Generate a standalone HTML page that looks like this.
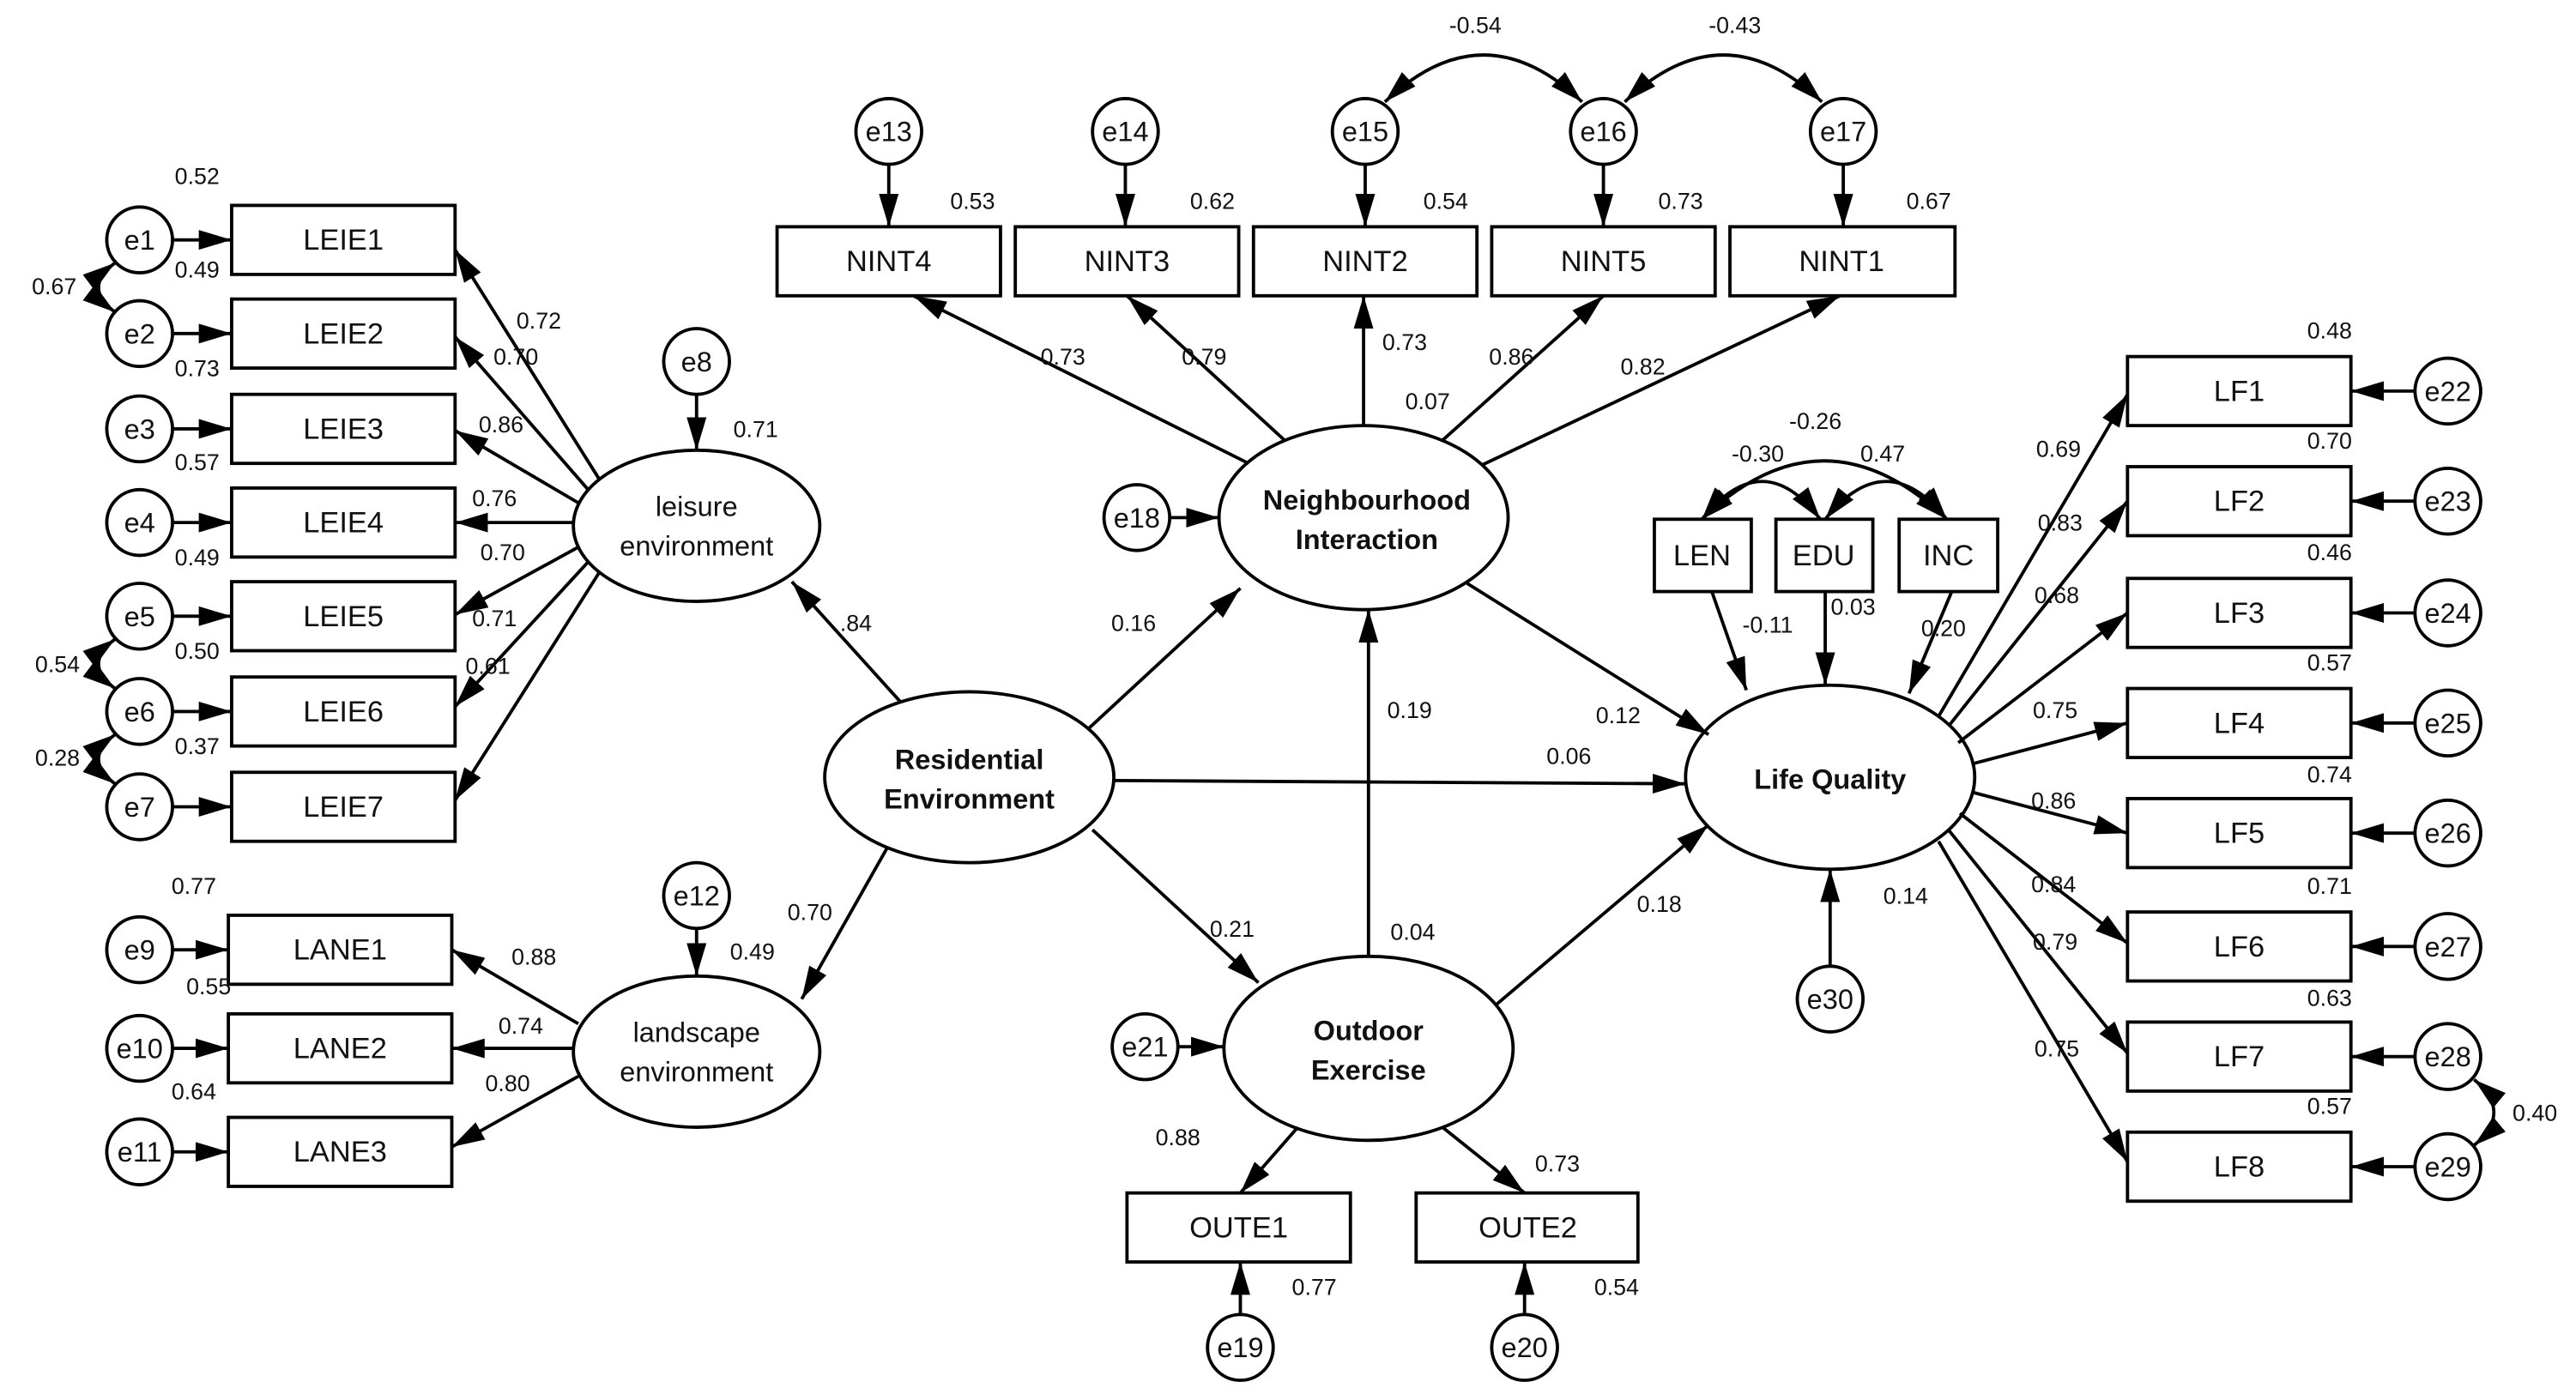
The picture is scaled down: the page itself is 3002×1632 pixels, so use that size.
<!DOCTYPE html>
<html><head><meta charset="utf-8">
<style>
html,body{margin:0;padding:0;background:#fff;}
svg{display:block;}
text{font-family:"Liberation Sans",Arial,sans-serif;fill:#111;}
.n{font-size:14px;}
.b{font-size:18px;}
.l{font-size:17px;font-weight:bold;}
.e{font-size:17px;}
</style></head><body>
<svg width="3002" height="1632" viewBox="0 0 1568 852" preserveAspectRatio="none" xmlns="http://www.w3.org/2000/svg">
<defs>
<marker id="a" viewBox="0 0 10 10" refX="10" refY="5" markerWidth="7" markerHeight="6" orient="auto-start-reverse" markerUnits="userSpaceOnUse">
<path d="M0,0 L10,5 L0,10 z" fill="#000"/></marker>
<marker id="A" viewBox="0 0 20 12" refX="20" refY="6" markerWidth="20" markerHeight="12" orient="auto-start-reverse" markerUnits="userSpaceOnUse">
<path d="M0,0 L20,6 L0,12 z" fill="#000"/></marker>
</defs>
<g stroke="#000" stroke-width="2" fill="none">
<!-- left LEIE boxes -->
<rect x="141" y="125" width="136" height="42"/>
<rect x="141" y="182" width="136" height="42"/>
<rect x="141" y="240" width="136" height="42"/>
<rect x="141" y="297" width="136" height="42"/>
<rect x="141" y="354" width="136" height="42"/>
<rect x="141" y="412" width="136" height="42"/>
<rect x="141" y="470" width="136" height="42"/>
<circle cx="85" cy="146" r="20"/><circle cx="85" cy="203" r="20"/><circle cx="85" cy="261" r="20"/>
<circle cx="85" cy="318" r="20"/><circle cx="85" cy="375" r="20"/><circle cx="85" cy="433" r="20"/><circle cx="85" cy="491" r="20"/>
<!-- LANE -->
<rect x="139" y="557" width="136" height="42"/>
<rect x="139" y="617" width="136" height="42"/>
<rect x="139" y="680" width="136" height="42"/>
<circle cx="85" cy="578" r="20"/><circle cx="85" cy="638" r="20"/><circle cx="85" cy="701" r="20"/>
<!-- latent ellipses -->
<ellipse cx="424" cy="320" rx="75" ry="46"/>
<ellipse cx="424" cy="640" rx="75" ry="46"/>
<ellipse cx="590" cy="473" rx="88" ry="52"/>
<ellipse cx="830" cy="315" rx="88" ry="56"/>
<ellipse cx="833" cy="638" rx="88" ry="56"/>
<ellipse cx="1114" cy="473" rx="88" ry="56"/>
<circle cx="424" cy="220" r="20"/><circle cx="424" cy="545" r="20"/>
<!-- NINT -->
<rect x="473" y="138" width="136" height="42"/>
<rect x="618" y="138" width="136" height="42"/>
<rect x="763" y="138" width="136" height="42"/>
<rect x="908" y="138" width="136" height="42"/>
<rect x="1053" y="138" width="137" height="42"/>
<circle cx="541" cy="80" r="20"/><circle cx="685" cy="80" r="20"/><circle cx="831" cy="80" r="20"/>
<circle cx="976" cy="80" r="20"/><circle cx="1122" cy="80" r="20"/>
<circle cx="692" cy="315" r="20"/><circle cx="697" cy="637" r="20"/>
<!-- OUTE -->
<rect x="686" y="726" width="136" height="42"/>
<rect x="862" y="726" width="135" height="42"/>
<circle cx="755" cy="820" r="20"/><circle cx="928" cy="820" r="20"/>
<!-- covariates -->
<rect x="1007" y="316" width="59" height="44"/>
<rect x="1081" y="316" width="59" height="44"/>
<rect x="1156" y="316" width="60" height="44"/>
<circle cx="1114" cy="608" r="20"/>
<!-- LF -->
<rect x="1295" y="217" width="136" height="42"/>
<rect x="1295" y="284" width="136" height="42"/>
<rect x="1295" y="352" width="136" height="42"/>
<rect x="1295" y="419" width="136" height="42"/>
<rect x="1295" y="486" width="136" height="42"/>
<rect x="1295" y="555" width="136" height="42"/>
<rect x="1295" y="622" width="136" height="42"/>
<rect x="1295" y="689" width="136" height="42"/>
<circle cx="1490" cy="238" r="20"/><circle cx="1490" cy="305" r="20"/><circle cx="1490" cy="373" r="20"/><circle cx="1490" cy="440" r="20"/>
<circle cx="1490" cy="507" r="20"/><circle cx="1490" cy="576" r="20"/><circle cx="1490" cy="643" r="20"/><circle cx="1490" cy="710" r="20"/>
</g>
<g stroke="#000" stroke-width="2" fill="none" marker-end="url(#A)">
<!-- error arrows left -->
<line x1="105" y1="146" x2="141" y2="146"/><line x1="105" y1="203" x2="141" y2="203"/><line x1="105" y1="261" x2="141" y2="261"/>
<line x1="105" y1="318" x2="141" y2="318"/><line x1="105" y1="375" x2="141" y2="375"/><line x1="105" y1="433" x2="141" y2="433"/>
<line x1="105" y1="491" x2="141" y2="491"/>
<line x1="105" y1="578" x2="139" y2="578"/><line x1="105" y1="638" x2="139" y2="638"/><line x1="105" y1="701" x2="139" y2="701"/>
<!-- leisure loadings -->
<line x1="365" y1="292" x2="277" y2="152"/>
<line x1="358" y1="298" x2="277" y2="205"/>
<line x1="352" y1="306" x2="277" y2="262"/>
<line x1="349" y1="318" x2="277" y2="318"/>
<line x1="352" y1="333" x2="277" y2="374"/>
<line x1="358" y1="342" x2="277" y2="430"/>
<line x1="365" y1="348" x2="277" y2="487"/>
<line x1="424" y1="240" x2="424" y2="274"/>
<line x1="424" y1="565" x2="424" y2="594"/>
<!-- landscape loadings -->
<line x1="352" y1="623" x2="275" y2="578"/>
<line x1="349" y1="638" x2="275" y2="638"/>
<line x1="352" y1="655" x2="275" y2="698"/>
<!-- residential -->
<line x1="548" y1="427" x2="482" y2="354"/>
<line x1="540" y1="516" x2="488" y2="608"/>
<line x1="663" y1="443" x2="755" y2="358"/>
<line x1="678" y1="475" x2="1026" y2="477"/>
<line x1="665" y1="505" x2="766" y2="598"/>
<!-- NINT -->
<line x1="541" y1="100" x2="541" y2="138"/><line x1="685" y1="100" x2="685" y2="138"/><line x1="831" y1="100" x2="831" y2="138"/>
<line x1="976" y1="100" x2="976" y2="138"/><line x1="1122" y1="100" x2="1122" y2="138"/>
<line x1="760" y1="282" x2="556" y2="180"/>
<line x1="782" y1="268" x2="686" y2="180"/>
<line x1="830" y1="259" x2="830" y2="180"/>
<line x1="878" y1="268" x2="976" y2="180"/>
<line x1="902" y1="283" x2="1120" y2="180"/>
<line x1="712" y1="315" x2="742" y2="315"/>
<line x1="717" y1="637" x2="745" y2="637"/>
<line x1="893" y1="355" x2="1040" y2="447"/>
<line x1="833" y1="582" x2="833" y2="371"/>
<line x1="910" y1="612" x2="1040" y2="502"/>
<!-- outdoor -->
<line x1="790" y1="686" x2="755" y2="726"/>
<line x1="878" y1="686" x2="928" y2="726"/>
<line x1="755" y1="800" x2="755" y2="768"/>
<line x1="928" y1="800" x2="928" y2="768"/>
<!-- covariates -->
<line x1="1042" y1="360" x2="1063" y2="420"/>
<line x1="1111" y1="360" x2="1111" y2="417"/>
<line x1="1188" y1="360" x2="1162" y2="422"/>
<line x1="1114" y1="588" x2="1114" y2="529"/>
<!-- LF -->
<line x1="1470" y1="238" x2="1431" y2="238"/><line x1="1470" y1="305" x2="1431" y2="305"/><line x1="1470" y1="373" x2="1431" y2="373"/>
<line x1="1470" y1="440" x2="1431" y2="440"/><line x1="1470" y1="507" x2="1431" y2="507"/><line x1="1470" y1="576" x2="1431" y2="576"/>
<line x1="1470" y1="643" x2="1431" y2="643"/><line x1="1470" y1="710" x2="1431" y2="710"/>
<line x1="1180" y1="436" x2="1295" y2="240"/>
<line x1="1186" y1="442" x2="1295" y2="305"/>
<line x1="1192" y1="452" x2="1295" y2="373"/>
<line x1="1200" y1="465" x2="1295" y2="440"/>
<line x1="1200" y1="482" x2="1295" y2="507"/>
<line x1="1193" y1="495" x2="1295" y2="574"/>
<line x1="1186" y1="505" x2="1295" y2="641"/>
<line x1="1180" y1="512" x2="1295" y2="707"/>
</g>
<!-- covariance curves -->
<g stroke="#000" stroke-width="2" fill="none" marker-start="url(#A)" marker-end="url(#A)">
<path d="M70,160 Q50,175 70,190"/>
<path d="M70,389 Q50,404 70,419"/>
<path d="M70,447 Q50,462 70,477"/>
<path d="M843,62 Q903,5 963,62"/>
<path d="M989,62 Q1049,5 1109,62"/>
<path d="M1506,657 Q1530,677 1506,697"/>
<path d="M1036,316 Q1073,270 1108,316"/>
<path d="M1111,316 Q1148,270 1185,316"/>
<path d="M1036,316 Q1110,245 1185,316"/>
</g>
<!-- text -->
<g class="b" text-anchor="middle">
<text x="209" y="152">LEIE1</text><text x="209" y="209">LEIE2</text><text x="209" y="267">LEIE3</text><text x="209" y="324">LEIE4</text>
<text x="209" y="381">LEIE5</text><text x="209" y="439">LEIE6</text><text x="209" y="497">LEIE7</text>
<text x="207" y="584">LANE1</text><text x="207" y="644">LANE2</text><text x="207" y="707">LANE3</text>
<text x="541" y="165">NINT4</text><text x="686" y="165">NINT3</text><text x="831" y="165">NINT2</text><text x="976" y="165">NINT5</text><text x="1121" y="165">NINT1</text>
<text x="754" y="753">OUTE1</text><text x="930" y="753">OUTE2</text>
<text x="1036" y="344">LEN</text><text x="1110" y="344">EDU</text><text x="1186" y="344">INC</text>
<text x="1363" y="244">LF1</text><text x="1363" y="311">LF2</text><text x="1363" y="379">LF3</text><text x="1363" y="446">LF4</text>
<text x="1363" y="513">LF5</text><text x="1363" y="582">LF6</text><text x="1363" y="649">LF7</text><text x="1363" y="716">LF8</text>
</g>
<g class="e" text-anchor="middle">
<text x="85" y="152">e1</text><text x="85" y="209">e2</text><text x="85" y="267">e3</text><text x="85" y="324">e4</text>
<text x="85" y="381">e5</text><text x="85" y="439">e6</text><text x="85" y="497">e7</text>
<text x="85" y="584">e9</text><text x="85" y="644">e10</text><text x="85" y="707">e11</text>
<text x="424" y="226">e8</text><text x="424" y="551">e12</text>
<text x="541" y="86">e13</text><text x="685" y="86">e14</text><text x="831" y="86">e15</text><text x="976" y="86">e16</text><text x="1122" y="86">e17</text>
<text x="692" y="321">e18</text><text x="697" y="643">e21</text><text x="755" y="826">e19</text><text x="928" y="826">e20</text><text x="1114" y="614">e30</text>
<text x="1490" y="244">e22</text><text x="1490" y="311">e23</text><text x="1490" y="379">e24</text><text x="1490" y="446">e25</text>
<text x="1490" y="513">e26</text><text x="1490" y="582">e27</text><text x="1490" y="649">e28</text><text x="1490" y="716">e29</text>
<text x="424" y="314">leisure</text><text x="424" y="338">environment</text>
<text x="424" y="634">landscape</text><text x="424" y="658">environment</text>
</g>
<g class="l" text-anchor="middle">
<text x="590" y="468">Residential</text><text x="590" y="492">Environment</text>
<text x="832" y="310">Neighbourhood</text><text x="832" y="334">Interaction</text>
<text x="833" y="633">Outdoor</text><text x="833" y="657">Exercise</text>
<text x="1114" y="480">Life Quality</text>
</g>
<g class="n" text-anchor="middle">
<text x="120" y="112">0.52</text><text x="120" y="169">0.49</text><text x="120" y="229">0.73</text><text x="120" y="286">0.57</text>
<text x="120" y="344">0.49</text><text x="120" y="401">0.50</text><text x="120" y="459">0.37</text>
<text x="33" y="179">0.67</text><text x="35" y="409">0.54</text><text x="35" y="466">0.28</text>
<text x="328" y="200">0.72</text><text x="314" y="222">0.70</text><text x="305" y="263">0.86</text><text x="301" y="308">0.76</text>
<text x="306" y="341">0.70</text><text x="301" y="381">0.71</text><text x="297" y="410">0.61</text>
<text x="460" y="266">0.71</text><text x="458" y="584">0.49</text>
<text x="118" y="544">0.77</text><text x="127" y="605">0.55</text><text x="118" y="669">0.64</text>
<text x="325" y="587">0.88</text><text x="317" y="629">0.74</text><text x="309" y="664">0.80</text>
<text x="521" y="384">.84</text><text x="493" y="560">0.70</text>
<text x="592" y="127">0.53</text><text x="738" y="127">0.62</text><text x="880" y="127">0.54</text><text x="1023" y="127">0.73</text><text x="1174" y="127">0.67</text>
<text x="898" y="20">-0.54</text><text x="1056" y="20">-0.43</text>
<text x="647" y="222">0.73</text><text x="733" y="222">0.79</text><text x="855" y="213">0.73</text><text x="920" y="222">0.86</text><text x="1000" y="228">0.82</text>
<text x="869" y="249">0.07</text><text x="690" y="384">0.16</text>
<text x="858" y="437">0.19</text><text x="860" y="572">0.04</text><text x="750" y="570">0.21</text>
<text x="717" y="697">0.88</text><text x="948" y="713">0.73</text><text x="800" y="788">0.77</text><text x="984" y="788">0.54</text>
<text x="1105" y="261">-0.26</text><text x="1070" y="281">-0.30</text><text x="1146" y="281">0.47</text>
<text x="1076" y="385">-0.11</text><text x="1128" y="374">0.03</text><text x="1183" y="387">0.20</text>
<text x="985" y="440">0.12</text><text x="955" y="465">0.06</text><text x="1010" y="555">0.18</text><text x="1160" y="550">0.14</text>
<text x="1418" y="206">0.48</text><text x="1418" y="273">0.70</text><text x="1418" y="341">0.46</text><text x="1418" y="408">0.57</text>
<text x="1418" y="476">0.74</text><text x="1418" y="544">0.71</text><text x="1418" y="612">0.63</text><text x="1418" y="678">0.57</text>
<text x="1253" y="278">0.69</text><text x="1254" y="323">0.83</text><text x="1252" y="367">0.68</text><text x="1251" y="437">0.75</text>
<text x="1250" y="492">0.86</text><text x="1250" y="543">0.84</text><text x="1251" y="578">0.79</text><text x="1252" y="643">0.75</text>
<text x="1543" y="682">0.40</text>
</g>
</svg>
</body></html>
